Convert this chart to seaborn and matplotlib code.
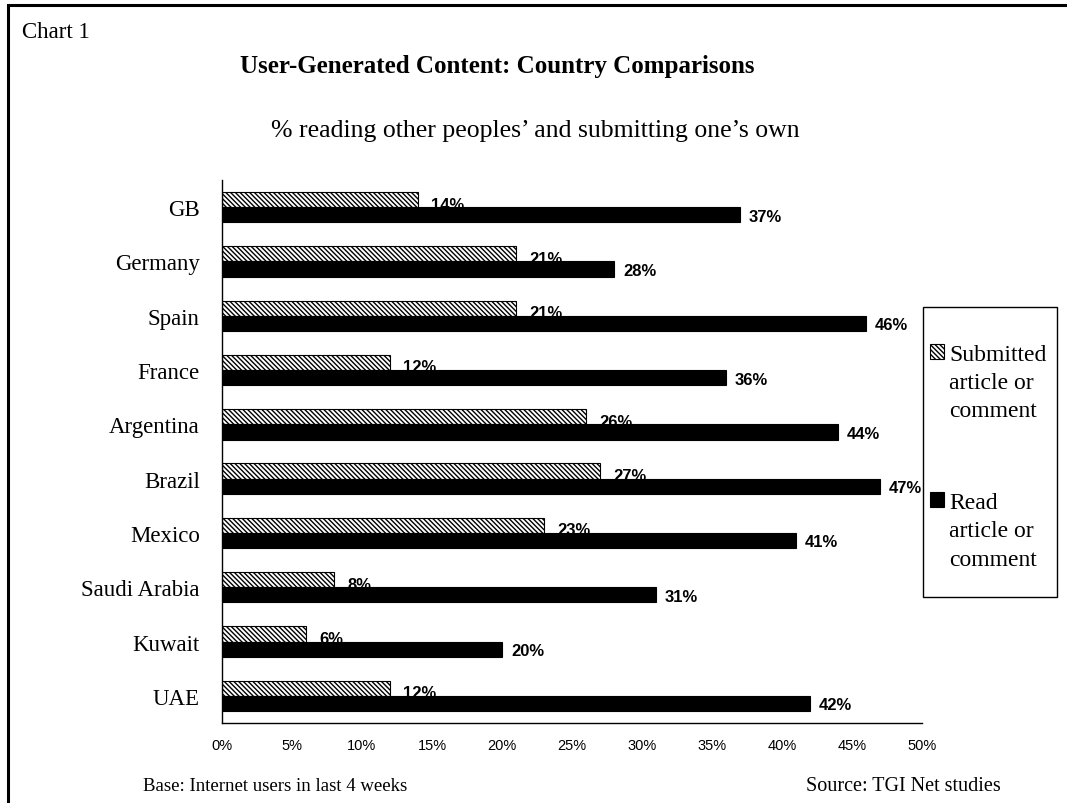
import matplotlib
matplotlib.use("Agg")
import matplotlib.pyplot as plt
from matplotlib.patches import Rectangle
from matplotlib.ticker import FixedLocator, FuncFormatter
import pandas as pd
import seaborn as sns

# ---- data -------------------------------------------------------------
countries = ["GB", "Germany", "Spain", "France", "Argentina", "Brazil",
             "Mexico", "Saudi Arabia", "Kuwait", "UAE"]
submitted = [14, 21, 21, 12, 26, 27, 23, 8, 6, 12]
read = [37, 28, 46, 36, 44, 47, 41, 31, 20, 42]
series_names = ["Submitted\narticle or\ncomment", "Read\narticle or\ncomment"]
x_ticks = [0, 5, 10, 15, 20, 25, 30, 35, 40, 45, 50]

df = pd.DataFrame({
    "country": countries * 2,
    "series": [series_names[0]] * len(countries) + [series_names[1]] * len(countries),
    "value": submitted + read,
})

# ---- style ------------------------------------------------------------
sns.set_theme(style="white")
SERIF = ["Liberation Serif", "DejaVu Serif"]
SANS = ["Liberation Sans", "DejaVu Sans"]
plt.rcParams["font.family"] = SERIF
plt.rcParams["text.color"] = "black"
plt.rcParams["axes.labelcolor"] = "black"
plt.rcParams["xtick.color"] = "black"
plt.rcParams["ytick.color"] = "black"
plt.rcParams["hatch.linewidth"] = 1.0
plt.rcParams["hatch.color"] = "black"

W, H = 1067, 804
fig = plt.figure(figsize=(W / 100, H / 100), dpi=100)
fig.patch.set_facecolor("white")

ax = fig.add_axes([222 / W, 1 - 724 / H, 700 / W, 543 / H])
sns.barplot(data=df, y="country", x="value", hue="series", orient="h",
            palette=["white", "black"], edgecolor="black", linewidth=0.8,
            width=0.56, gap=0, dodge=True, legend=False, ax=ax)

# dense diagonal hatch on the "submitted" bars
for p in ax.containers[0]:
    p.set_hatch("\\" * 7)

# ---- axes -------------------------------------------------------------
ax.set_xlim(0, 50)
ax.set_ylim(len(countries) - 0.5, -0.5)
ax.set_xlabel("")
ax.set_ylabel("")
ax.xaxis.set_major_locator(FixedLocator(x_ticks))
ax.xaxis.set_major_formatter(FuncFormatter(lambda v, _: f"{v:.0f}%"))
ax.tick_params(axis="x", direction="out", length=6, width=1, color="black",
               labelsize=10.5, pad=5, labelcolor="black")
for lab in ax.get_xticklabels():
    lab.set_fontfamily(SANS)

ax.set_yticks(range(len(countries)))
ax.set_yticklabels(countries)
ax.set_yticks([i - 0.5 for i in range(len(countries) + 1)], minor=True)
ax.tick_params(axis="y", which="major", length=0, labelsize=16.5, pad=16,
               labelcolor="black")
ax.tick_params(axis="y", which="minor", direction="out", length=7, width=1,
               color="black")
for s in ["top", "right"]:
    ax.spines[s].set_visible(False)
for s in ["left", "bottom"]:
    ax.spines[s].set_color("black")
    ax.spines[s].set_linewidth(1)
ax.grid(False)

# ---- value labels -----------------------------------------------------
for p, v in zip(ax.containers[0], submitted):
    ax.annotate(f"{v}%", xy=(v, p.get_y() + p.get_height()),
                xytext=(9.5, -1), textcoords="offset points",
                ha="left", va="baseline", fontsize=12, fontweight="bold",
                family=SANS, color="black", zorder=0.5)
for p, v in zip(ax.containers[1], read):
    ax.annotate(f"{v}%", xy=(v, p.get_y() + p.get_height() / 2),
                xytext=(6.5, -1), textcoords="offset points",
                ha="left", va="center", fontsize=12, fontweight="bold",
                family=SANS, color="black", zorder=3, annotation_clip=False)

# ---- legend -----------------------------------------------------------
leg = fig.legend(handles=list(ax.containers), labels=series_names,
                 loc="upper left", bbox_to_anchor=(930 / W, 1 - 345 / H),
                 frameon=False, prop={"family": SERIF, "size": 17},
                 handlelength=0.58, handleheight=0.58, handletextpad=0.22,
                 labelspacing=3.0, borderpad=0, borderaxespad=0)
for t in leg.get_texts():
    t.set_linespacing(1.45)
    t.set_color("black")
for col in leg._legend_handle_box.get_children():
    for row in col.get_children():
        row.align = "top"
fig.patches.append(Rectangle((923 / W, 1 - 598 / H), 134 / W, 290 / H,
                             transform=fig.transFigure, fill=False,
                             edgecolor="black", linewidth=1))

# ---- frame & texts ----------------------------------------------------
fig.patches.append(Rectangle((8 / W, -0.2), 1.3, 1.2 - 6 / H,
                             transform=fig.transFigure, fill=False,
                             edgecolor="black", linewidth=2.2))
fig.text(22 / W, 1 - 32 / H, "Chart 1", ha="left", va="center", fontsize=16.5)
fig.text(497 / W, 1 - 66 / H, "User-Generated Content: Country Comparisons",
         ha="center", va="center", fontsize=18, fontweight="bold")
fig.text(535 / W, 1 - 131 / H,
         "% reading other peoples\u2019 and submitting one\u2019s own",
         ha="center", va="center", fontsize=18.5)
fig.text(143 / W, 1 - 787 / H, "Base: Internet users in last 4 weeks",
         ha="left", va="center", fontsize=13.5)
fig.text(1001 / W, 1 - 787 / H, "Source: TGI Net studies",
         ha="right", va="center", fontsize=14.5)

fig.savefig("out.png", dpi=100)
